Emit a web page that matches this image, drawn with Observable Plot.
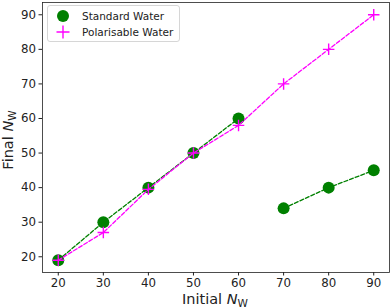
<!DOCTYPE html>
<html><head><meta charset="utf-8">
<script src="https://cdn.jsdelivr.net/npm/d3@7"></script>
<script src="https://cdn.jsdelivr.net/npm/@observablehq/plot@0.6"></script>
<style>body{margin:0;background:#fff}</style>
</head><body><div id="chart"></div>
<script>
const initialNW = [20, 30, 40, 50, 60, 70, 80, 90];
const standardFinal = [19, 30, 40, 50, 60, 34, 40, 45];
const standardGroup = ["a", "a", "a", "a", "a", "b", "b", "b"];
const polarFinal = [19, 27, 39.5, 50, 58, 70, 80, 90];
const xTicks = [20, 30, 40, 50, 60, 70, 80, 90];
const yTicks = [20, 30, 40, 50, 60, 70, 80, 90];
const seriesNames = ["Standard Water", "Polarisable Water"];
const GREEN = "#008000", MAGENTA = "#ff00ff";

const standard = initialNW.map((x, i) => ({x, y: standardFinal[i], g: standardGroup[i]}));
const polar = initialNW.map((x, i) => ({x, y: polarFinal[i]}));

const plusSymbol = {
  draw(ctx, size) {
    const r = Math.sqrt(size) / 2;
    ctx.moveTo(-r, 0); ctx.lineTo(r, 0);
    ctx.moveTo(0, -r); ctx.lineTo(0, r);
  }
};

const chart = Plot.plot({
  width: 392, height: 308,
  marginLeft: 42, marginRight: 3, marginTop: 2, marginBottom: 36,
  style: {fontFamily: "DejaVu Sans", fontSize: "11px", color: "#222", background: "#fff"},
  x: {domain: [16.5, 93.5], ticks: xTicks, label: null},
  y: {domain: [15.45, 93.55], ticks: yTicks, label: null},
  marks: [
    Plot.axisX({ticks: xTicks, tickSize: 3.5, tickPadding: 3, fontSize: 11.8, label: null, stroke: "#222"}),
    Plot.axisY({ticks: yTicks, tickSize: 3.5, tickPadding: 3, fontSize: 11.8, label: null, stroke: "#222"}),
    Plot.line(standard, {x: "x", y: "y", z: "g", stroke: GREEN, strokeWidth: 1.3, strokeDasharray: "4,2"}),
    Plot.dot(standard, {x: "x", y: "y", r: 6, fill: GREEN, stroke: "none"}),
    Plot.line(polar, {x: "x", y: "y", stroke: MAGENTA, strokeWidth: 1.3, strokeDasharray: "4,2"}),
    Plot.dot(polar, {x: "x", y: "y", symbol: plusSymbol, r: 6.5, stroke: MAGENTA, fill: "none", strokeWidth: 1.4}),
    Plot.frame({stroke: "#222", strokeWidth: 0.8})
  ]
});
document.getElementById("chart").appendChild(chart);

const svg = d3.select(chart);
// axis labels with subscript
const xl = svg.append("text").attr("x", 215).attr("y", 304).attr("text-anchor", "middle")
  .attr("font-size", 14.5).attr("font-family", "DejaVu Sans").attr("fill", "#222");
xl.append("tspan").text("Initial ");
xl.append("tspan").attr("font-style", "italic").text("N");
xl.append("tspan").attr("font-size", 10.5).attr("dy", 3).text("W");

const yl = svg.append("text").attr("transform", "translate(12.5,140) rotate(-90)").attr("text-anchor", "middle")
  .attr("font-size", 14.5).attr("font-family", "DejaVu Sans").attr("fill", "#222");
yl.append("tspan").text("Final ");
yl.append("tspan").attr("font-style", "italic").text("N");
yl.append("tspan").attr("font-size", 10.5).attr("dy", 3).text("W");

// legend
const lg = svg.append("g");
lg.append("rect").attr("x", 47.5).attr("y", 5.5).attr("width", 132).attr("height", 36).attr("rx", 2.5)
  .attr("fill", "#fff").attr("fill-opacity", 0.8).attr("stroke", "#ccc").attr("stroke-width", 0.8);
lg.append("circle").attr("cx", 63).attr("cy", 16).attr("r", 6).attr("fill", GREEN);
lg.append("path").attr("d", "M56.5,32H69.5M63,25.5V38.5").attr("stroke", MAGENTA).attr("stroke-width", 1.4);
seriesNames.forEach((s, i) => {
  lg.append("text").attr("x", 82).attr("y", 16 + i * 16).attr("dy", "0.35em").attr("text-anchor", "start")
    .attr("font-size", 10.5).attr("font-family", "DejaVu Sans").attr("fill", "#222").text(s);
});
</script></body></html>
